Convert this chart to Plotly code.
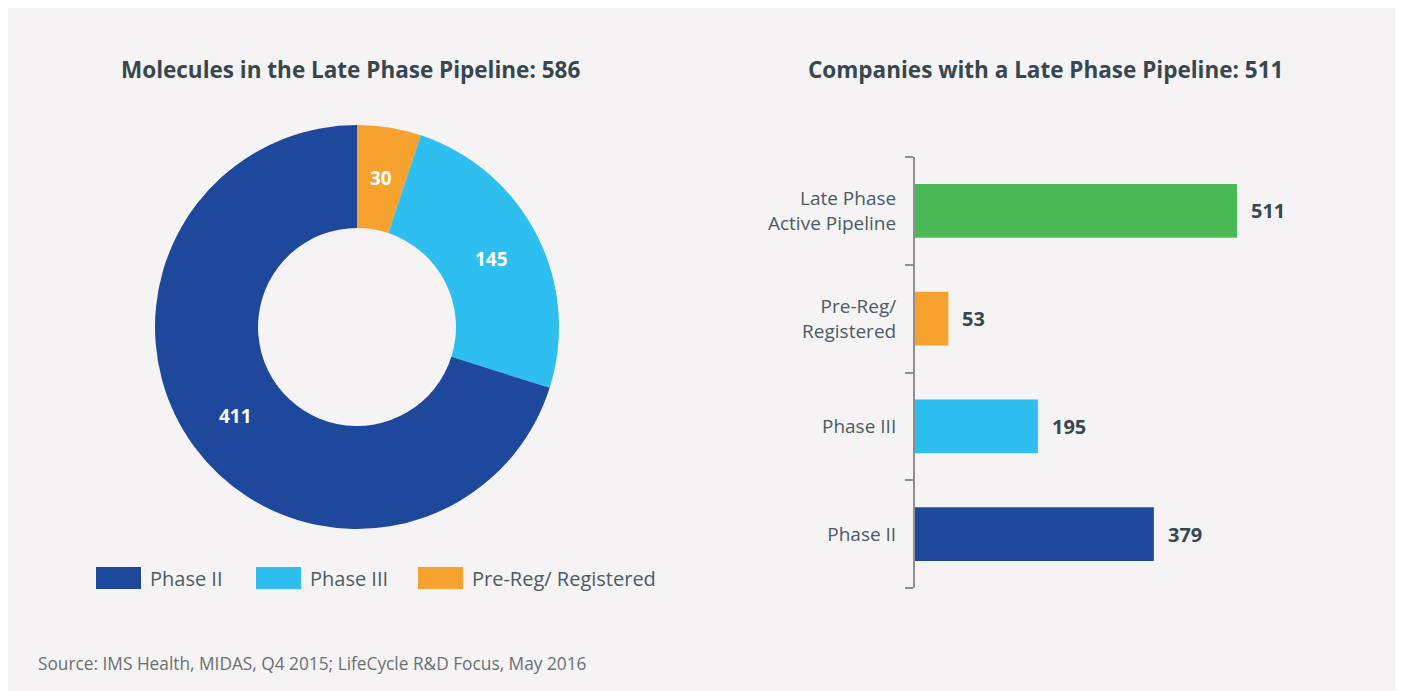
import math
import plotly.graph_objects as go

# page body margin puts the figure at (8, 8) in the window
OFF = 8
W, H = 1390, 683

# donut data
phase_labels = ["Phase II", "Phase III", "Pre-Reg/ Registered"]
phase_molecules = [411, 145, 30]
phase_colors = ["#1d489c", "#2ebff0", "#f7a12f"]

# bar data (bottom to top)
bar_labels = ["Phase II", "Phase III", "Pre-Reg/<br>Registered", "Late Phase<br>Active Pipeline"]
bar_companies = [379, 195, 53, 511]
bar_colors = ["#1d489c", "#2ebff0", "#f7a12f", "#4cb957"]

FONT = "Open Sans"
DARK = "#37474f"
GREY_TXT = "#4b5b66"
BG = "#f5f3f4"


def px(x):
    return (x - OFF) / W


def py(y):
    return 1 - (y - OFF) / H


# donut geometry (window pixels)
cx, cy, r_out, hole = 357, 327, 202, 0.49

fig = go.Figure()

fig.add_trace(go.Pie(
    labels=phase_labels[::-1],
    values=phase_molecules[::-1],
    marker=dict(colors=phase_colors[::-1], line=dict(width=0)),
    hole=hole,
    sort=False,
    direction="clockwise",
    rotation=0,
    textinfo="none",
    domain=dict(x=[px(cx - r_out), px(cx + r_out)], y=[py(cy + r_out), py(cy - r_out)]),
    showlegend=False,
))

# slice values at mid-radius of each slice
total = sum(phase_molecules)
r_mid = r_out * (1 + hole) / 2
acc = 0
for v in phase_molecules[::-1]:
    ang = math.radians((acc + v / 2) / total * 360)
    acc += v
    fig.add_annotation(xref="paper", yref="paper",
                       x=px(cx + r_mid * math.sin(ang)), y=py(cy - r_mid * math.cos(ang)),
                       xanchor="center", yanchor="middle",
                       text=f"<b>{v}</b>", showarrow=False,
                       font=dict(family=FONT, size=19, color="white"))

fig.add_trace(go.Bar(
    x=bar_companies,
    y=bar_labels,
    orientation="h",
    width=0.5,
    marker=dict(color=bar_colors, line=dict(width=0)),
    showlegend=False,
    xaxis="x",
    yaxis="y",
))

# value labels beside bars
for lab, v in zip(bar_labels, bar_companies):
    fig.add_annotation(x=v, y=lab, xref="x", yref="y", text=f"<b>{v}</b>",
                       showarrow=False, xanchor="left", xshift=12,
                       font=dict(family=FONT, size=20, color=DARK))

x_end = 1340
px_per_unit = (1238 - 916) / 511
fig.update_layout(
    xaxis=dict(domain=[px(915), px(x_end)], range=[0, (x_end - 915) / px_per_unit],
               visible=False, fixedrange=True),
    yaxis=dict(domain=[py(588), py(157)], range=[-0.5, 3.5], showline=True,
               linecolor="#8f8f8f", linewidth=2, ticks="outside", tickson="boundaries",
               ticklen=8, tickwidth=2, tickcolor="#8f8f8f", ticklabelstandoff=13,
               tickfont=dict(family=FONT, size=19, color=GREY_TXT), showgrid=False,
               zeroline=False),
)

# custom legend under donut
legend_x = [96, 256, 418]
for lab, col, x0 in zip(phase_labels, phase_colors, legend_x):
    fig.add_shape(type="rect", xref="paper", yref="paper", x0=px(x0), x1=px(x0 + 45),
                  y0=py(589), y1=py(567), fillcolor=col, line=dict(width=0))
    fig.add_annotation(xref="paper", yref="paper", x=px(x0 + 52), y=py(578), text=lab,
                       showarrow=False, xanchor="left", yanchor="middle",
                       font=dict(family=FONT, size=20, color=GREY_TXT))

# titles and source
fig.add_annotation(xref="paper", yref="paper", x=px(350), y=py(69),
                   text="<b>Molecules in the Late Phase Pipeline: 586</b>", showarrow=False,
                   xanchor="center", yanchor="middle", font=dict(family=FONT, size=22.5, color=DARK))
fig.add_annotation(xref="paper", yref="paper", x=px(1045), y=py(69),
                   text="<b>Companies with a Late Phase Pipeline: 511</b>", showarrow=False,
                   xanchor="center", yanchor="middle", font=dict(family=FONT, size=22.5, color=DARK))
fig.add_annotation(xref="paper", yref="paper", x=px(36), y=py(663),
                   text="Source: IMS Health, MIDAS, Q4 2015; LifeCycle R&D Focus, May 2016",
                   showarrow=False, xanchor="left", yanchor="middle",
                   font=dict(family=FONT, size=17.3, color="#6b6f72"))

fig.update_layout(
    width=W, height=H,
    margin=dict(l=0, r=0, t=0, b=0),
    paper_bgcolor=BG,
    plot_bgcolor="rgba(0,0,0,0)",
    font=dict(family=FONT),
)

fig.write_html("out.html", config={"displayModeBar": False})
